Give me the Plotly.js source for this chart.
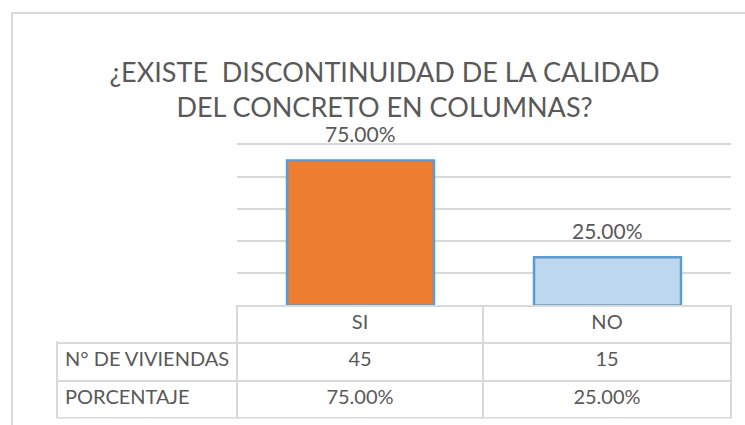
<!DOCTYPE html>
<html>
<head>
<meta charset="utf-8">
<script src="https://cdn.plot.ly/plotly-3.0.1.min.js"></script>
<style>html,body{margin:0;padding:0;background:#fff;}#chart{width:745px;height:425px;}</style>
</head>
<body>
<div id="chart"></div>
<script>
// ---- data ----
const categories = ['SI', 'NO'];
const viviendas = [45, 15];
const porcentajes = [0.75, 0.25];
const rowLabels = ['N° DE VIVIENDAS', 'PORCENTAJE'];
const titleLines = ['¿EXISTE \u00a0DISCONTINUIDAD DE LA CALIDAD', 'DEL CONCRETO EN COLUMNAS?'];

// ---- styles ----
const W = 745, H = 425;
const FONT = 'Lato, "Open Sans", sans-serif';
const TXT = '#595959';
const GRID = '#d9d9d9';
const fills = ['#ED7D31', '#BDD7EE'];
const pct = porcentajes.map(p => (p * 100).toFixed(2) + '%');
const nb = s => String(s).replace(/ /g, '\u00a0');

const px = v => v / W;
const py = v => 1 - v / H;

const bar = {
  type: 'bar',
  x: categories,
  y: viviendas,
  marker: { color: fills, line: { color: '#5B9BD5', width: 2.5 } },
  width: 0.595,
  hoverinfo: 'skip',
  xaxis: 'x', yaxis: 'y'
};

const table = {
  type: 'table',
  domain: { x: [px(57), px(731)], y: [py(418.5), py(305.5)] },
  columnwidth: [180, 246, 248],
  header: {
    values: [''].concat(categories),
    align: ['left', 'center', 'center'],
    height: 37.6,
    fill: { color: 'white' },
    line: { color: GRID, width: 2 },
    font: { family: FONT, size: 20, color: TXT }
  },
  cells: {
    values: [rowLabels.map(nb), [viviendas[0], pct[0]], [viviendas[1], pct[1]]],
    align: ['left', 'center', 'center'],
    height: 37.6,
    fill: { color: 'white' },
    line: { color: GRID, width: 2 },
    font: { family: FONT, size: 20, color: TXT }
  }
};

const annotations = categories.map((c, i) => ({
  x: c, y: viviendas[i], xref: 'x', yref: 'y',
  text: pct[i], showarrow: false, yanchor: 'bottom', yshift: 12,
  font: { family: FONT, size: 21, color: TXT }
}));

const layout = {
  width: W, height: H,
  margin: { l: 0, r: 0, t: 0, b: 0 },
  paper_bgcolor: 'white', plot_bgcolor: 'white',
  showlegend: false,
  title: {
    text: titleLines.join('<br>'),
    x: px(384.5), xanchor: 'center',
    y: py(82), yanchor: 'top',
    font: { family: FONT, size: 27, color: TXT }
  },
  xaxis: {
    domain: [px(237), px(731)],
    showticklabels: false, ticks: '', showgrid: false, zeroline: false, showline: false,
    fixedrange: true
  },
  yaxis: {
    domain: [py(305.5), py(141.1)],
    range: [0, 51], dtick: 10,
    showticklabels: false, ticks: '', showgrid: true, gridcolor: GRID, gridwidth: 2,
    zeroline: false, showline: false, fixedrange: true
  },
  annotations: annotations,
  shapes: [{
    type: 'rect', xref: 'paper', yref: 'paper',
    x0: px(12), x1: 2, y0: -1, y1: py(13),
    line: { color: GRID, width: 2 }, fillcolor: 'rgba(0,0,0,0)', layer: 'below'
  }, {
    type: 'rect', xref: 'paper', yref: 'paper',
    x0: px(50), x1: px(235.6), y0: py(341.3), y1: py(298),
    line: { width: 0 }, fillcolor: 'white', layer: 'above'
  }]
};

Plotly.newPlot('chart', [bar, table], layout, { displayModeBar: false, staticPlot: true });
</script>
</body>
</html>
